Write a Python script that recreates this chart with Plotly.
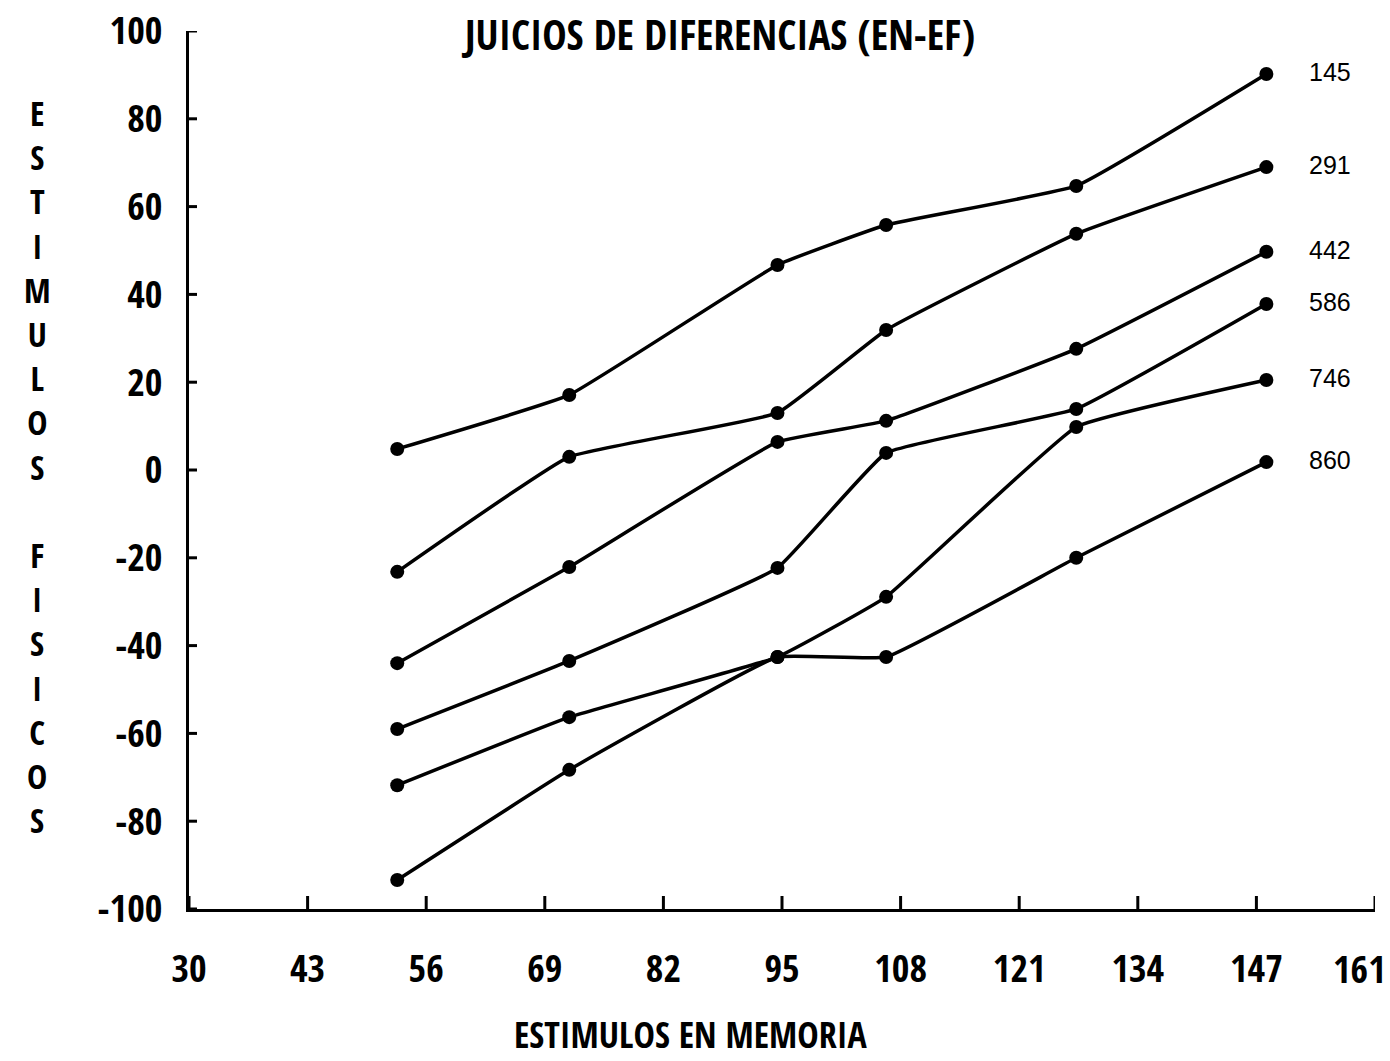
import plotly.graph_objects as go

# ---------------- data ----------------
X_STIM = [53, 72, 95, 107, 128, 149]
SERIES_NAMES = ["145", "291", "442", "586", "746", "860"]
Y_145 = [4.8, 17.1, 46.7, 55.8, 64.7, 90.2]
Y_291 = [-23.2, 3.0, 13.0, 31.9, 53.8, 69.0]
Y_442 = [-44.0, -22.1, 6.4, 11.2, 27.6, 49.7]
Y_586 = [-59.0, -43.5, -22.3, 3.9, 13.9, 37.8]
Y_746 = [-71.8, -56.3, -42.6, -28.9, 9.8, 20.5]
Y_860 = [-93.4, -68.3, -42.6, -42.6, -20.0, 1.8]
SERIES_VALUES = [Y_145, Y_291, Y_442, Y_586, Y_746, Y_860]

X_TICK_VALS = [30, 43.1, 56.2, 69.3, 82.4, 95.5, 108.6, 121.7, 134.8, 147.9, 161.0]
X_TICK_TEXT = ["30", "43", "56", "69", "82", "95", "108", "121", "134", "147", "161"]
Y_TICK_VALS = [100, 80, 60, 40, 20, 0, -20, -40, -60, -80, -100]
Y_TICK_TEXT = ["100", "80", "60", "40", "20", "0", "-20", "-40", "-60", "-80", "-100"]

TITLE = "JUICIOS DE DIFERENCIAS (EN-EF)"
X_TITLE = "ESTIMULOS EN MEMORIA"
Y_TITLE_WORDS = ["ESTIMULOS", "FISICOS"]

# ---------------- style ----------------
W, H = 1390, 1061
ML, MR, MT, MB = 189, 15, 31, 152
PW, PH = W - ML - MR, H - MT - MB
NARROW = "Open Sans Condensed, Roboto Condensed, DejaVu Sans Condensed, sans-serif"
INK = "#000000"
TICK_SIZE = 38

fig = go.Figure()
for name, ys in zip(SERIES_NAMES, SERIES_VALUES):
    fig.add_trace(go.Scatter(
        x=X_STIM, y=ys, name=name, mode="lines+markers",
        line=dict(color=INK, width=3.5, shape="spline", smoothing=0.3),
        marker=dict(color=INK, size=14, symbol="circle"),
        cliponaxis=False, showlegend=False,
    ))
    fig.add_annotation(x=X_STIM[-1], y=ys[-1], xref="x", yref="y", text=name,
                       showarrow=False, xshift=64, yshift=2,
                       font=dict(family="Liberation Sans, Arial, sans-serif", size=25, color=INK))

# crossing tick marks
for v in X_TICK_VALS:
    fig.add_shape(type="line", xref="x", yref="y", x0=v, x1=v,
                  ysizemode="pixel", yanchor=-100, y0=-13, y1=13,
                  line=dict(color=INK, width=3))
for v in Y_TICK_VALS:
    fig.add_shape(type="line", xref="x", yref="y", y0=v, y1=v,
                  xsizemode="pixel", xanchor=30, x0=-8, x1=8,
                  line=dict(color=INK, width=3))

# the last x label sits at the page edge: draw it right-aligned so it stays inside
axis_text = X_TICK_TEXT[:-1] + [""]
fig.add_annotation(x=X_TICK_VALS[-1], y=-100, xref="x", yref="y", text=X_TICK_TEXT[-1],
                   showarrow=False, xanchor="right", yanchor="middle", xshift=13, yshift=-59,
                   font=dict(family=NARROW, size=TICK_SIZE, color=INK, weight="bold"))

# vertical stacked y-axis title (one letter per line)
starts = [115, 557]
for word, start in zip(Y_TITLE_WORDS, starts):
    fig.add_annotation(xref="paper", yref="paper",
                       x=(37 - ML) / PW, y=(H - MB - start) / PH,
                       text="<br>".join(word), showarrow=False,
                       xanchor="center", yanchor="top", yshift=27,
                       font=dict(family=NARROW, size=34, color=INK, weight="bold"))

# x-axis title
fig.add_annotation(xref="paper", yref="paper", x=(690 - ML) / PW, y=(H - MB - 1034) / PH,
                   text=X_TITLE, showarrow=False, xanchor="center", yanchor="middle",
                   font=dict(family=NARROW, size=36, color=INK, weight="bold"))

fig.update_layout(
    width=W, height=H,
    margin=dict(l=ML, r=MR, t=MT, b=MB, pad=0),
    paper_bgcolor="white", plot_bgcolor="white",
    title=dict(text=TITLE, x=720 / W, xanchor="center", y=1 - 36 / H, yanchor="middle",
               font=dict(family=NARROW, size=41, color=INK, weight="bold")),
    xaxis=dict(range=[30, 161], tickmode="array", tickvals=X_TICK_VALS, ticktext=axis_text,
               showgrid=False, zeroline=False, showline=True, linecolor=INK, linewidth=3,
               ticks="", ticklabelstandoff=24, automargin=False,
               tickfont=dict(family=NARROW, size=TICK_SIZE, color=INK, weight="bold")),
    yaxis=dict(range=[-100, 100], tickmode="array", tickvals=Y_TICK_VALS, ticktext=Y_TICK_TEXT,
               showgrid=False, zeroline=False, showline=True, linecolor=INK, linewidth=3,
               ticks="", ticklabelstandoff=16, automargin=False,
               tickfont=dict(family=NARROW, size=TICK_SIZE, color=INK, weight="bold")),
)

fig.write_html("out.html")
